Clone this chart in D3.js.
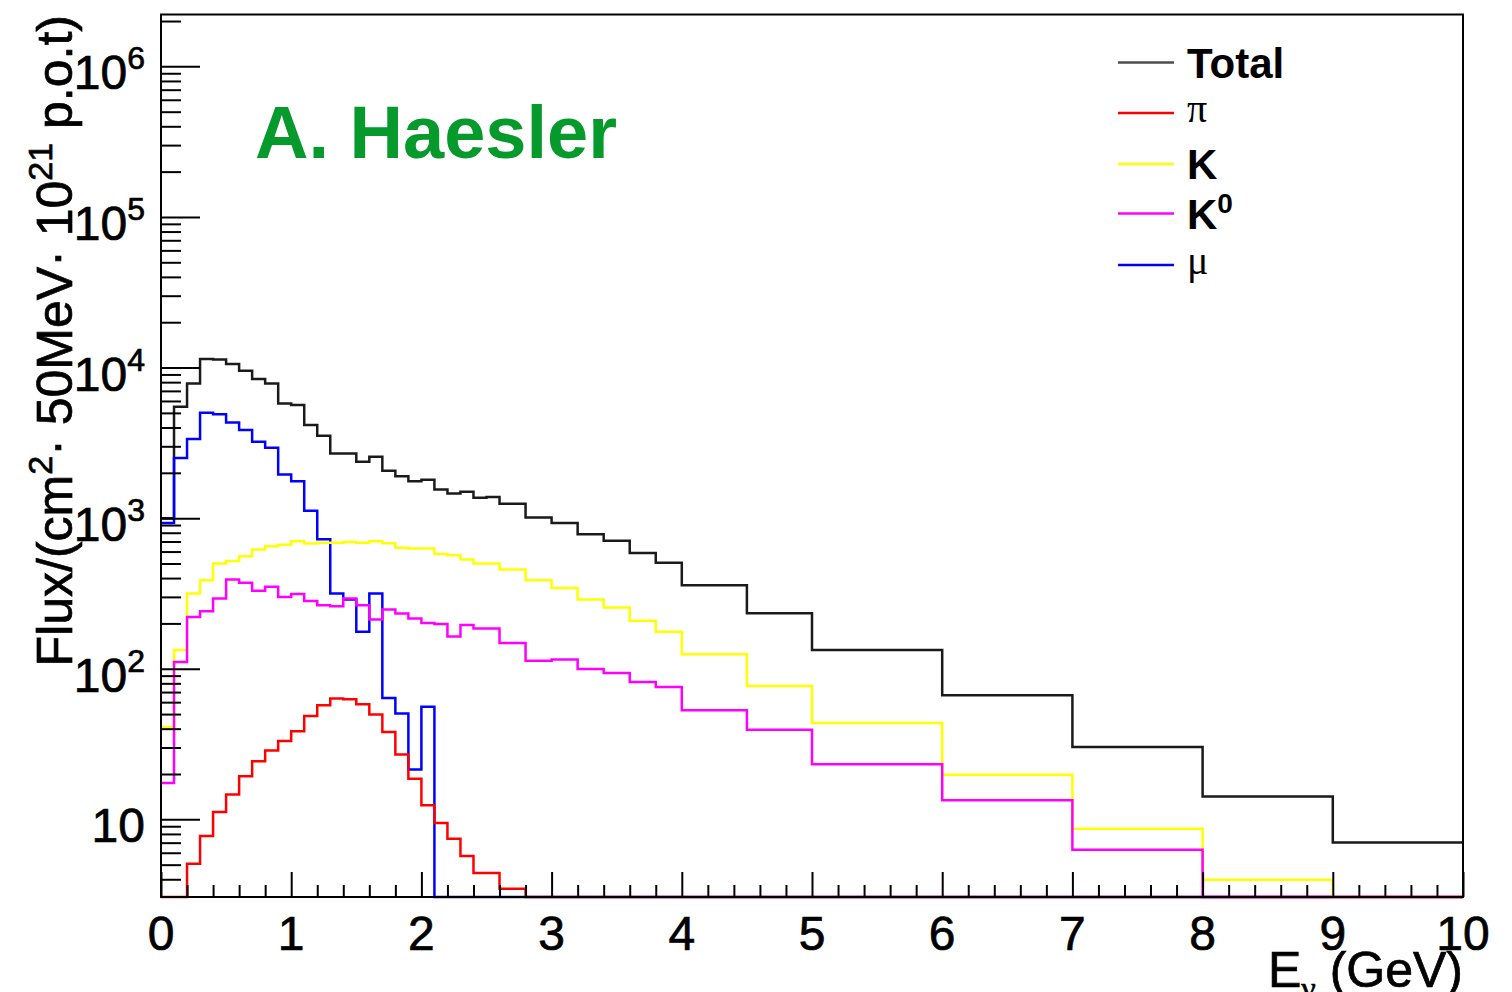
<!DOCTYPE html>
<html>
<head>
<meta charset="utf-8">
<script src="https://cdn.jsdelivr.net/npm/d3@7"></script>
<style>
  body { margin: 0; background: #ffffff; }
  svg { display: block; }
  .heavy { stroke: #000; stroke-width: 0.7px; paint-order: stroke; }
</style>
</head>
<body>
<svg id="chart" width="1512" height="992"></svg>
<script>
// Variable-width energy bins (GeV): 0.1 up to 2.6, 0.2 up to 4, 0.5 up to 5, then 1 GeV
const binEdges = [0, 0.1, 0.2, 0.3, 0.4, 0.5, 0.6, 0.7, 0.8, 0.9, 1.0,
                  1.1, 1.2, 1.3, 1.4, 1.5, 1.6, 1.7, 1.8, 1.9, 2.0,
                  2.1, 2.2, 2.3, 2.4, 2.5, 2.6, 2.8, 3.0, 3.2, 3.4,
                  3.6, 3.8, 4.0, 4.5, 5, 6, 7, 8, 9, 10];

// Flux per bin for each parent
const totalFlux = [1000, 5490, 7850, 11400, 11300, 10550, 9530, 8390, 7850, 5780,
                   5640, 4150, 3520, 2690, 2690, 2366, 2555, 2063, 1900, 1760,
                   1800, 1552, 1460, 1497, 1364, 1380, 1245, 1011, 930, 783,
                   707, 588, 505, 359, 234, 133, 66.7, 30.2, 14.2, 7.03];
const piFlux    = [0, 0, 5.08, 7.74, 11.2, 14.6, 19.3, 24.3, 28.7, 33.1,
                   38.4, 48.5, 57.2, 63.4, 62.7, 58.1, 49.6, 38.0, 27.0, 18.6,
                   12.4, 9.45, 7.44, 5.70, 4.40, 4.40, 3.46, 0, 0, 0,
                   0, 0, 0, 0, 0, 0, 0, 0, 0, 0];
const kFlux     = [41, 133, 316, 387, 500, 520, 559, 620, 651, 665,
                   703, 679, 687, 687, 694, 687, 703, 680, 637, 628,
                   628, 577, 568, 532, 500, 500, 456, 387, 344, 288,
                   255, 208, 176, 125, 76.9, 43.6, 19.8, 8.67, 3.97, 0];
const k0Flux    = [17.4, 111, 221, 241, 293, 392, 372, 329, 350, 300,
                   313, 282, 264, 260, 293, 264, 212, 247, 233, 216,
                   201, 198, 164, 195, 185, 185, 148, 113, 115, 99.7,
                   93.8, 81.6, 75.7, 53.0, 39.4, 23.2, 13.4, 6.29, 0, 0];
const muFlux    = [927, 2512, 3350, 5010, 4890, 4320, 3845, 3215, 2933, 1950,
                   1761, 1120, 724, 316, 288, 176, 316, 64, 50.4, 21.4,
                   56, 0, 0, 0, 0, 0, 0, 0, 0, 0,
                   0, 0, 0, 0, 0, 0, 0, 0, 0, 0];

// Axis ticks
const xTickValues = [0, 1, 2, 3, 4, 5, 6, 7, 8, 9, 10];
const yDecades = [10, 100, 1000, 10000, 100000, 1000000];
const yDecadeExponents = ["", "2", "3", "4", "5", "6"];

// Drawing order and colours of the histograms
const seriesStyle = [
  { values: totalFlux, color: "#1a1a1a" },
  { values: muFlux,    color: "#0000ff" },
  { values: piFlux,    color: "#ff0000" },
  { values: kFlux,     color: "#ffff00" },
  { values: k0Flux,    color: "#ff00ff" }
];

// Legend entries
const legendItems = [
  { label: "Total", color: "#4d4d4d", kind: "bold" },
  { label: "π",     color: "#ff0000", kind: "symbol" },
  { label: "K",     color: "#ffff00", kind: "bold" },
  { label: "K",     color: "#ff00ff", kind: "bold", sup: "0" },
  { label: "μ",     color: "#0000ff", kind: "symbol" }
];

const svg = d3.select("#chart");
const frame = { left: 161, right: 1463, top: 14.5, bottom: 897 };
const yMin = 3.05, yMax = 2.21e6;

const x = d3.scaleLinear().domain([0, 10]).range([frame.left, frame.right]);
const y = d3.scaleLog().domain([yMin, yMax]).range([frame.bottom, frame.top]).clamp(true);

const sans = "'Liberation Sans', Arial, Helvetica, sans-serif";
const serif = "'Liberation Serif', 'Times New Roman', serif";

// Histograms as step lines
const stepLine = d3.line()
  .x(d => x(d[0]))
  .y(d => y(Math.max(d[1], yMin)))
  .curve(d3.curveStepAfter);

function stepPoints(vals) {
  const pts = vals.map((v, i) => [binEdges[i], v]);
  pts.push([binEdges[vals.length], vals[vals.length - 1]]);
  return pts;
}

const histG = svg.append("g");
seriesStyle.forEach(s => {
  histG.append("path")
    .attr("d", stepLine(stepPoints(s.values)))
    .attr("fill", "none")
    .attr("stroke", s.color)
    .attr("stroke-width", 2.5)
    .attr("stroke-linejoin", "miter");
});

// Inward ticks along the bottom
const xMinor = d3.range(0, 10.001, 0.2).filter(v => Math.abs(v - Math.round(v)) > 1e-6);
const xAxisMinor = d3.axisBottom(x).tickValues(xMinor).tickSize(-12).tickFormat("");
const xAxisMajor = d3.axisBottom(x).tickValues(xTickValues).tickSize(-25).tickFormat("");
[xAxisMinor, xAxisMajor].forEach(ax => {
  const g = svg.append("g").attr("transform", `translate(0,${frame.bottom})`).call(ax);
  g.select(".domain").remove();
  g.selectAll(".tick line").attr("stroke", "#000").attr("stroke-width", 2);
});

// Inward ticks along the left side
const yMinor = [];
[1, 10, 100, 1000, 10000, 100000, 1000000].forEach(d => {
  for (let m = 2; m <= 9; m++) {
    const v = m * d;
    if (v >= yMin && v <= yMax) yMinor.push(v);
  }
});
const yAxisMinor = d3.axisLeft(y).tickValues(yMinor).tickSize(-20).tickFormat("");
const yAxisMajor = d3.axisLeft(y).tickValues(yDecades).tickSize(-39).tickFormat("");
[yAxisMinor, yAxisMajor].forEach(ax => {
  const g = svg.append("g").attr("transform", `translate(${frame.left},0)`).call(ax);
  g.select(".domain").remove();
  g.selectAll(".tick line").attr("stroke", "#000").attr("stroke-width", 2);
});

// Frame
svg.append("rect")
  .attr("x", frame.left).attr("y", frame.top)
  .attr("width", frame.right - frame.left).attr("height", frame.bottom - frame.top)
  .attr("fill", "none").attr("stroke", "#000").attr("stroke-width", 2);

// Bottom tick labels
svg.append("g").selectAll("text").data(xTickValues).join("text")
  .attr("class", "heavy")
  .attr("x", d => x(d)).attr("y", 950)
  .attr("text-anchor", "middle")
  .attr("font-family", sans).attr("font-size", 48)
  .attr("fill", "#000")
  .text(d => d);

// Left tick labels (powers of ten)
const yLab = svg.append("g").selectAll("text").data(yDecades).join("text")
  .attr("class", "heavy")
  .attr("x", 145).attr("y", d => y(d) + 23)
  .attr("text-anchor", "end")
  .attr("font-family", sans).attr("font-size", 48)
  .attr("fill", "#000");
yLab.each(function(d, i) {
  const t = d3.select(this);
  t.append("tspan").text("10");
  if (yDecadeExponents[i]) {
    t.append("tspan").attr("font-size", 32).attr("dy", -20).text(yDecadeExponents[i]);
  }
});

// Axis titles
const yTitle = svg.append("text")
  .attr("class", "heavy")
  .attr("transform", "translate(72,15) rotate(-90)")
  .attr("text-anchor", "end")
  .attr("font-family", sans).attr("font-size", 50)
  .attr("fill", "#000");
yTitle.append("tspan").text("Flux/(cm");
yTitle.append("tspan").attr("font-size", 34).attr("dy", -20).text("2");
yTitle.append("tspan").attr("dy", 20).text("· 50MeV· 10");
yTitle.append("tspan").attr("font-size", 34).attr("dy", -20).text("21");
yTitle.append("tspan").attr("dy", 20).text(" p.o.t)");

const xTitle = svg.append("text")
  .attr("class", "heavy")
  .attr("x", frame.right).attr("y", 987)
  .attr("text-anchor", "end")
  .attr("font-family", sans).attr("font-size", 50)
  .attr("fill", "#000");
xTitle.append("tspan").text("E");
xTitle.append("tspan").attr("font-family", serif).attr("font-size", 32).attr("dy", 12).text("ν");
xTitle.append("tspan").attr("dy", -12).text(" (GeV)");

// Author label
svg.append("text")
  .attr("x", 255).attr("y", 158)
  .attr("font-family", sans).attr("font-weight", "bold").attr("font-size", 74)
  .attr("fill", "#06992c")
  .text("A. Haesler");

// Legend
const legendY = [62.5, 113, 164, 213.5, 265];
const legendG = svg.append("g");
legendItems.forEach((item, i) => {
  const ly = legendY[i];
  legendG.append("line")
    .attr("x1", 1118).attr("x2", 1174).attr("y1", ly).attr("y2", ly)
    .attr("stroke", item.color).attr("stroke-width", 2.3);
  const t = legendG.append("text")
    .attr("x", 1187)
    .attr("fill", "#000");
  if (item.kind === "bold") {
    t.attr("y", ly + 15)
      .attr("font-family", sans).attr("font-weight", "bold").attr("font-size", 42);
    t.append("tspan").text(item.label);
    if (item.sup) t.append("tspan").attr("font-size", 28).attr("dy", -16).text(item.sup);
  } else {
    t.attr("y", ly + 9)
      .attr("font-family", serif).attr("font-size", 40)
      .text(item.label);
  }
});
</script>
</body>
</html>
